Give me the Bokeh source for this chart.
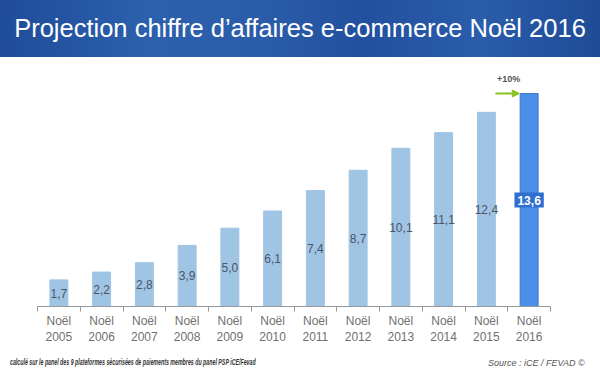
from bokeh.plotting import figure
from bokeh.models import Div, FixedTicker, Label, Arrow, NormalHead, ColumnDataSource
from bokeh.layouts import column
from bokeh.core.properties import value
from bokeh.embed import file_html
from bokeh.resources import INLINE

years = ["2005", "2006", "2007", "2008", "2009", "2010", "2011", "2012", "2013", "2014", "2015", "2016"]
values = [1.7, 2.2, 2.8, 3.9, 5.0, 6.1, 7.4, 8.7, 10.1, 11.1, 12.4, 13.6]
value_labels = ["1,7", "2,2", "2,8", "3,9", "5,0", "6,1", "7,4", "8,7", "10,1", "11,1", "12,4", "13,6"]
growth_label = "+10%"
title_text = "Projection chiffre d’affaires e-commerce Noël 2016"
footnote_text = "calculé sur le panel des 9 plateformes sécurisées de paiements membres du panel PSP iCE/Fevad"
source_text = "Source : iCE / FEVAD ©"

FONT = "Liberation Sans"

banner = Div(
    text=(f'<div style="width:600px;height:57px;box-sizing:border-box;'
          f'background:linear-gradient(90deg,#1f4c98 0%,#2c60ad 25%,#2a5ca9 45%,#22509e 60%,#2a5dab 80%,#1f4b96 100%);'
          f'color:#ffffff;font-family:\'{FONT}\';font-size:25.5px;line-height:57px;text-align:center;'
          f'white-space:nowrap;">{title_text}</div>'),
    width=600, height=57, margin=0,
)

n = len(years)
centers = [i + 0.5 for i in range(n)]
colors = ["#9fc4e4"] * (n - 1) + ["#4b8fe8"]
lines = ["#9fc4e4"] * (n - 1) + ["#3f78cc"]

src = ColumnDataSource(dict(x=centers, top=values, color=colors, line=lines))

p = figure(width=600, height=292, x_range=(0, n), y_range=(0, 15.9),
           output_backend="svg", toolbar_location=None,
           min_border_left=37, min_border_right=50, min_border_top=0, min_border_bottom=43,
           y_axis_location=None)
p.outline_line_color = None
p.grid.visible = False
p.background_fill_color = "white"
p.border_fill_color = "white"

p.vbar(x="x", top="top", width=0.42, bottom=0, fill_color="color", line_color="line", source=src)

# value labels inside bars (all but last)
src_in = ColumnDataSource(dict(x=centers[:-1], y=[v / 2 for v in values[:-1]], t=value_labels[:-1]))
p.text(x="x", y="y", text="t", source=src_in, text_align="center", text_baseline="middle",
       text_font=value(FONT), text_font_size="12px", text_color="#4a5566")

last = Label(x=centers[-1], y=values[-1] / 2, text=value_labels[-1], text_align="center",
             text_baseline="middle", text_font=FONT, text_font_size="12px", text_font_style="bold",
             text_color="white", background_fill_color="#2f6fcf", padding=3)
p.add_layout(last)

# growth arrow
arrow_y = values[-1]
p.add_layout(Arrow(x_start=centers[-1] - 0.79, y_start=arrow_y, x_end=centers[-1] - 0.23, y_end=arrow_y,
                   line_color="#8cc21c", line_width=2,
                   end=NormalHead(size=7, fill_color="#8cc21c", line_color="#8cc21c")))
p.add_layout(Label(x=centers[-1] - 0.48, y=arrow_y + 0.95, text=growth_label, text_align="center",
                   text_baseline="middle", text_font=FONT, text_font_size="9px",
                   text_font_style="bold", text_color="#555555"))

# axis
ax = p.xaxis[0]
ax.ticker = FixedTicker(ticks=centers, minor_ticks=list(range(n + 1)))
ax.major_label_overrides = {c: f"Noël\n{y}" for c, y in zip(centers, years)}
ax.major_tick_in = 0
ax.major_tick_out = 0
ax.minor_tick_in = 0
ax.minor_tick_out = 5
ax.minor_tick_line_color = "#999999"
ax.axis_line_color = "#999999"
ax.major_label_text_font = FONT
ax.major_label_text_font_size = "12px"
ax.major_label_text_color = "#707070"
ax.major_label_standoff = 2

footer = Div(
    text=(f'<div style="position:relative;width:600px;height:25px;background:white;font-family:\'{FONT}\';">'
          f'<span style="position:absolute;left:10px;top:7px;font-size:9.5px;line-height:11px;font-weight:bold;'
          f'font-style:italic;color:#333;white-space:nowrap;display:inline-block;transform:scaleX(0.555);'
          f'transform-origin:left;">{footnote_text}</span>'
          f'<span style="position:absolute;left:488px;top:9px;font-size:9px;line-height:10px;font-style:italic;'
          f'color:#555;white-space:nowrap;">{source_text}</span></div>'),
    width=600, height=25, margin=0,
)

layout = column(banner, p, footer, spacing=0)
open("out.html", "w").write(file_html(layout, INLINE))
